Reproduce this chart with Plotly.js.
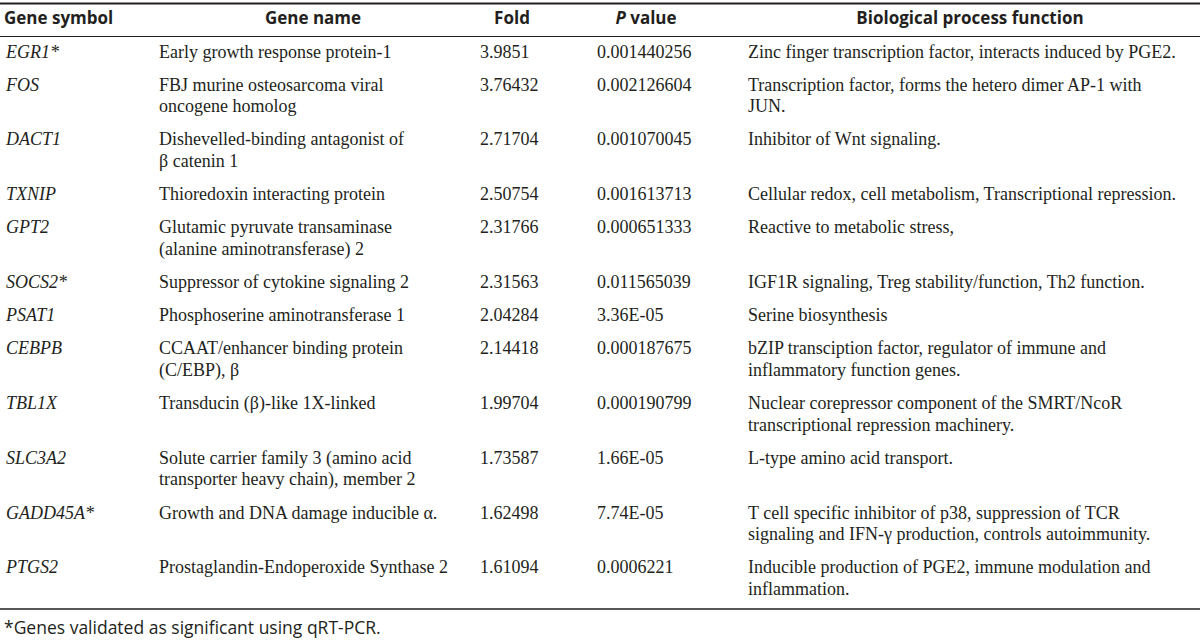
<!DOCTYPE html>
<html>
<head>
<meta charset="utf-8">
<script src="https://cdn.plot.ly/plotly-3.0.1.min.js"></script>
<style>html,body{margin:0;padding:0;background:#fff;}</style>
</head>
<body>
<div id="chart" style="width:1200px;height:640px;"></div>
<script>
// ---- data ----
const headers = ['Gene symbol', 'Gene name', 'Fold', '<i>P</i> value', 'Biological process function'];
const symbols = ['EGR1*','FOS','DACT1','TXNIP','GPT2','SOCS2*','PSAT1','CEBPB','TBL1X','SLC3A2','GADD45A*','PTGS2'];
const geneNames = [
  'Early growth response protein-1',
  'FBJ murine osteosarcoma viral<br>oncogene homolog',
  'Dishevelled-binding antagonist of<br>β catenin 1',
  'Thioredoxin interacting protein',
  'Glutamic pyruvate transaminase<br>(alanine aminotransferase) 2',
  'Suppressor of cytokine signaling 2',
  'Phosphoserine aminotransferase 1',
  'CCAAT/enhancer binding protein<br>(C/EBP), β',
  'Transducin (β)-like 1X-linked',
  'Solute carrier family 3 (amino acid<br>transporter heavy chain), member 2',
  'Growth and DNA damage inducible α.',
  'Prostaglandin-Endoperoxide Synthase 2'
];
const fold = ['3.9851','3.76432','2.71704','2.50754','2.31766','2.31563','2.04284','2.14418','1.99704','1.73587','1.62498','1.61094'];
const pValues = ['0.001440256','0.002126604','0.001070045','0.001613713','0.000651333','0.011565039','3.36E-05','0.000187675','0.000190799','1.66E-05','7.74E-05','0.0006221'];
const functions = [
  'Zinc finger transcription factor, interacts induced by PGE2.',
  'Transcription factor, forms the hetero dimer AP-1 with<br>JUN.',
  'Inhibitor of Wnt signaling.',
  'Cellular redox, cell metabolism, Transcriptional repression.',
  'Reactive to metabolic stress,',
  'IGF1R signaling, Treg stability/function, Th2 function.',
  'Serine biosynthesis',
  'bZIP transciption factor, regulator of immune and<br>inflammatory function genes.',
  'Nuclear corepressor component of the SMRT/NcoR<br>transcriptional repression machinery.',
  'L-type amino acid transport.',
  'T cell specific inhibitor of p38, suppression of TCR<br>signaling and IFN-γ production, controls autoimmunity.',
  'Inducible production of PGE2, immune modulation and<br>inflammation.'
];
const footnote = '*Genes validated as significant using qRT-PCR.';

// ---- layout constants (pixels) ----
const ink = '#231f20';
const colX = [6, 159, 480, 597, 748];          // left edge of body text per column
const headerX = [4, 313, 512, 646, 970];       // header anchor per column
const headerPos = ['middle right', 'middle center', 'middle center', 'middle center', 'middle center'];
const TOP_RULE = 3.5, HEADER_Y = 20, HEADER_RULE = 36.5;
const ROW_H = 33.2, LINE_GAP = 21.5, FIRST_LINE = 16.5;
const bodyFont = {family: 'Liberation Serif', size: 18, color: ink};
const headFont = {family: 'Open Sans', size: 17, color: ink};

const columns = [symbols.map(s => '<i>' + s + '</i>'), geneNames, fold, pValues, functions];
const nRows = symbols.length;

// row tops from the number of lines in each row
const rowTops = [];
let yCursor = HEADER_RULE;
for (let r = 0; r < nRows; r++) {
  rowTops.push(yCursor);
  const nLines = Math.max(...columns.map(col => String(col[r]).split('<br>').length));
  yCursor += ROW_H + (nLines - 1) * LINE_GAP;
}
const tableBottom = yCursor + 2;

const traces = [];
// header
traces.push({
  type: 'scatter', mode: 'text',
  x: headerX, y: headers.map(() => HEADER_Y),
  text: headers.map(h => '<b>' + h + '</b>'),
  textposition: headerPos,
  textfont: headFont,
  hoverinfo: 'skip', showlegend: false, cliponaxis: false
});
// body columns
columns.forEach((col, c) => {
  const xs = [], ys = [], ts = [];
  col.forEach((cell, r) => {
    String(cell).split('<br>').forEach((line, k) => {
      xs.push(colX[c]);
      ys.push(rowTops[r] + FIRST_LINE + k * LINE_GAP);
      ts.push(line);
    });
  });
  traces.push({
    type: 'scatter', mode: 'text',
    x: xs, y: ys, text: ts,
    textposition: 'middle right',
    textfont: bodyFont,
    hoverinfo: 'skip', showlegend: false, cliponaxis: false
  });
});

const layout = {
  width: 1200,
  height: 640,
  margin: {l: 0, r: 0, t: 0, b: 0},
  paper_bgcolor: '#ffffff',
  plot_bgcolor: '#ffffff',
  showlegend: false,
  xaxis: {range: [0, 1200], visible: false, fixedrange: true},
  yaxis: {range: [640, 0], visible: false, fixedrange: true},
  shapes: [
    {type: 'line', xref: 'paper', yref: 'y', x0: 0, x1: 1, y0: TOP_RULE, y1: TOP_RULE, line: {color: ink, width: 2.2}},
    {type: 'line', xref: 'paper', yref: 'y', x0: 0, x1: 1, y0: HEADER_RULE, y1: HEADER_RULE, line: {color: ink, width: 1}},
    {type: 'line', xref: 'paper', yref: 'y', x0: 0, x1: 1, y0: tableBottom, y1: tableBottom, line: {color: ink, width: 1.5}}
  ],
  annotations: [
    {text: footnote, xref: 'x', yref: 'y', x: 2, y: tableBottom + 18, xanchor: 'left', yanchor: 'middle',
     showarrow: false, font: {family: 'Open Sans', size: 17.5, color: ink}}
  ]
};

Plotly.newPlot('chart', traces, layout, {displayModeBar: false, staticPlot: true});
</script>
</body>
</html>
